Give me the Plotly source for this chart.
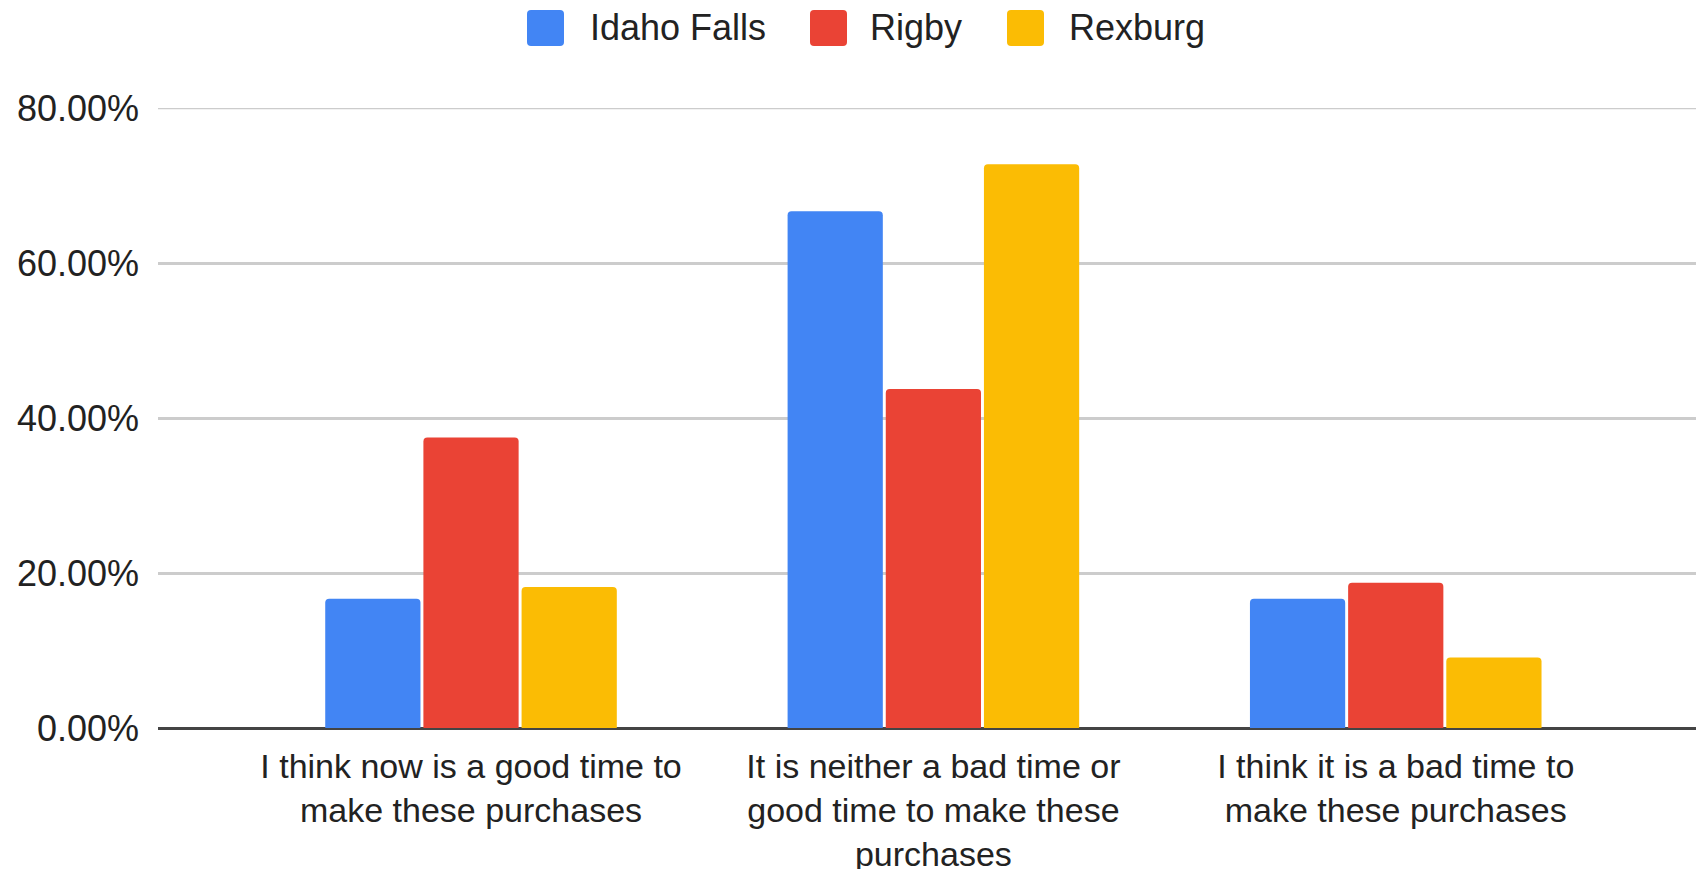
import plotly.graph_objects as go

categories = [
    "I think now is a good time to<br>make these purchases",
    "It is neither a bad time or<br>good time to make these<br>purchases",
    "I think it is a bad time to<br>make these purchases",
]
series_names = ["Idaho Falls", "Rigby", "Rexburg"]
idaho_falls = [0.1667, 0.6667, 0.1667]
rigby = [0.375, 0.4375, 0.1875]
rexburg = [0.1818, 0.7273, 0.0909]
y_ticks = [0, 0.2, 0.4, 0.6, 0.8]
colors = ["#4285F4", "#EA4335", "#FBBC04"]

FONT = "Liberation Sans, Arial, sans-serif"
TXT = "#222222"
GRID = "#CCCCCC"

# page layout (the html body adds an 8px offset)
W, H = 1704, 869
OFF = 8
L, T, B, R = 150, 100, 149, 0
PW, PH = W - L - R, H - T - B


def px_x(X):
    return (X - OFF - L) / PW


def px_y(Y):
    return (H - B - (Y - OFF)) / PH


fig = go.Figure()
for name, vals, col in zip(series_names, [idaho_falls, rigby, rexburg], colors):
    fig.add_trace(go.Bar(
        x=categories, y=vals, name=name,
        marker=dict(color=col, line=dict(width=0)),
        hoverinfo="skip", showlegend=False,
    ))

# custom legend (large rounded swatches like the original)
legend_swatch_x = [527, 810, 1007]
legend_text_x = [588, 868, 1067]
sw, sh, yc, r = 37, 36, 28, 4
shapes = []
annotations = []
for name, col, sx, tx in zip(series_names, colors, legend_swatch_x, legend_text_x):
    x0, x1 = px_x(sx), px_x(sx + sw)
    y1, y0 = px_y(yc - sh / 2), px_y(yc + sh / 2)
    rx, ry = r / PW, r / PH
    path = (f"M{x0 + rx},{y0} L{x1 - rx},{y0} Q{x1},{y0} {x1},{y0 + ry} "
            f"L{x1},{y1 - ry} Q{x1},{y1} {x1 - rx},{y1} L{x0 + rx},{y1} "
            f"Q{x0},{y1} {x0},{y1 - ry} L{x0},{y0 + ry} Q{x0},{y0} {x0 + rx},{y0} Z")
    shapes.append(dict(type="path", xref="paper", yref="paper", path=path,
                       fillcolor=col, line=dict(width=0), layer="above"))
    annotations.append(dict(text=name, xref="paper", yref="paper",
                            x=px_x(tx), y=px_y(yc), xanchor="left", yanchor="middle",
                            showarrow=False, font=dict(size=36, color=TXT, family=FONT)))

# top gridline (plotly skips a gridline sitting on the plot edge)
shapes.append(dict(type="line", xref="paper", yref="y", x0=0, x1=1,
                   y0=y_ticks[-1], y1=y_ticks[-1],
                   line=dict(color=GRID, width=2.5), layer="below"))

fig.update_layout(
    width=W, height=H,
    paper_bgcolor="white", plot_bgcolor="white",
    margin=dict(l=L, r=R, t=T, b=B, autoexpand=False),
    barmode="group", bargap=0.363, bargroupgap=0.03,
    barcornerradius=4,
    font=dict(family=FONT, size=36, color=TXT),
    showlegend=False,
    shapes=shapes, annotations=annotations,
)
fig.update_xaxes(
    type="category", range=[-0.677, 2.684],
    showgrid=False, showline=False, zeroline=False, ticks="",
    tickfont=dict(size=34, color=TXT),
    ticklabelstandoff=15, automargin=False,
)
fig.update_yaxes(
    range=[0, 0.8], tickvals=y_ticks, tickformat=".2%",
    showgrid=True, gridcolor=GRID, gridwidth=2.5,
    zeroline=True, zerolinecolor="#444444", zerolinewidth=3,
    showline=False, ticks="",
    tickfont=dict(size=36, color=TXT),
    ticklabelstandoff=18, automargin=False,
)

fig.write_html("out.html")
